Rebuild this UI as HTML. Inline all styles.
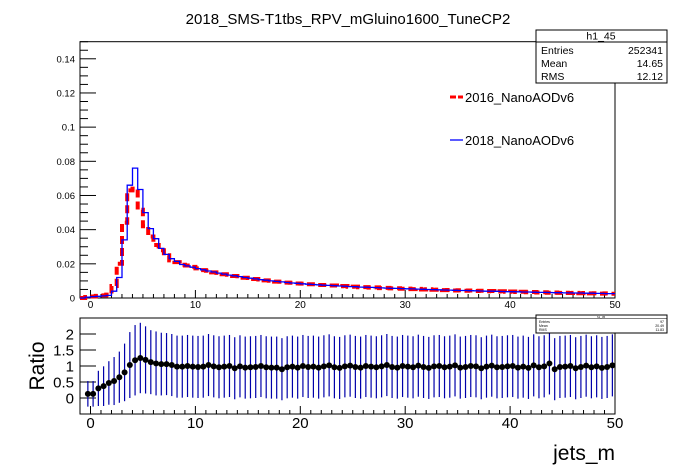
<!DOCTYPE html>
<html><head><meta charset="utf-8"><style>
body{margin:0;background:#fff}
svg{display:block;font-family:"Liberation Sans",sans-serif}
</style></head><body>
<svg id="c" width="696" height="472"></svg>
<script>
const binLow = -1, binW = 0.5;
const blue2018 = [0,0.0005,0.0008,0.001,0.0012,0.0015,0.004,0.012,0.034,0.066,0.076,0.0635,0.050,0.0406,0.0347,0.029,0.0255,0.023,0.0214,0.0196,
0.0188,0.018,0.0172,0.0165,0.0158,0.0152,0.0146,0.014,0.0134,0.013,0.0125,0.012,0.0116,0.0112,0.0107,0.0104,0.0100,0.0097,0.0094,0.0091,0.0088,0.0086,
0.0083,0.0081,0.0079,0.0077,0.0075,0.0074,0.0072,0.0070,0.0069,0.0067,
0.0066,0.0064,0.0063,0.0062,0.0061,0.0059,0.0058,0.0057,0.0056,0.0055,
0.0054,0.0053,0.0052,0.0051,0.0050,0.0049,0.0048,0.0047,0.0046,0.0045,
0.0044,0.0044,0.0043,0.0042,0.0041,0.0040,0.0040,0.0039,0.0038,0.0037,
0.0037,0.0036,0.0035,0.0035,0.0034,0.0033,0.0033,0.0032,0.0031,0.0031,
0.0030,0.0030,0.0029,0.0029,0.0028,0.0028,0.0027,0.0027,0.0026,0.0026];
const red2016 = [0,0.0006,0.0009,0.0012,0.0015,0.002,0.007,0.020,0.044,0.063,0.064,0.0516,0.042,0.036,0.031,0.028,0.025,0.022,0.021,0.0195,
0.019,0.0182,0.0173,0.0163,0.0159,0.0150,0.0147,0.0139,0.0136,0.0129,0.0127,0.0119,0.0117,0.0111,0.0108,0.0103,0.0101,0.0096,0.0095,0.0090,0.0089,0.0085,
0.0084,0.0080,0.0080,0.0076,0.0076,0.0073,0.0073,0.0069,0.0070,0.0066,
0.0067,0.0063,0.0064,0.0061,0.0062,0.0058,0.0059,0.0056,0.0057,0.0054,
0.0055,0.0052,0.0053,0.0050,0.0051,0.0048,0.0049,0.0046,0.0047,0.0044,
0.0045,0.0043,0.0044,0.0041,0.0042,0.0039,0.0041,0.0038,0.0039,0.0036,
0.0038,0.0035,0.0036,0.0034,0.0035,0.0032,0.0034,0.0031,0.0032,0.0030,
0.0031,0.0029,0.0030,0.0028,0.0029,0.0027,0.0028,0.0026,0.0027,0.0025];
const ratio = [null,0.13,0.13,0.30,0.37,0.47,0.53,0.65,0.80,1.03,1.18,1.25,1.19,1.12,1.08,1.06,1.06,1.03,0.98,0.98,
1.0,0.98,0.97,0.98,1.03,0.99,0.96,0.98,1.0,0.93,0.99,0.95,0.96,0.97,1.0,0.96,0.95,0.95,0.90,0.96,0.98,0.95,
1.0,0.97,0.98,0.95,0.99,1.02,0.96,0.94,0.99,1.01,0.97,0.95,1.0,0.98,0.96,0.99,1.03,0.97,0.95,1.0,
0.98,0.96,1.01,0.97,0.94,0.99,1.0,0.96,0.98,1.02,0.95,0.97,1.0,0.99,0.93,0.98,1.01,0.96,0.97,0.99,
1.0,0.95,0.98,0.94,1.02,0.96,0.99,1.08,0.9,0.97,0.98,1.0,0.93,0.97,1.01,0.96,0.99,0.94,0.97,1.02];
const ratioErr = [null,0.4,0.4,0.55,0.62,0.68,0.75,0.8,0.9,1.03,1.1,1.1,1.05,1.0,1.0,0.98,0.97,0.97,0.97,0.97,
0.97,0.97,0.97,0.97,0.97,0.97,0.97,0.97,0.97,0.97,0.97,0.97,0.97,0.97,0.97,0.97,0.97,0.97,0.97,0.97,0.97,0.97,
0.97,0.97,0.97,0.97,0.97,0.97,0.97,0.97,0.97,0.97,0.97,0.97,0.97,0.97,0.97,0.97,0.97,0.97,0.97,0.97,
0.97,0.97,0.97,0.97,0.97,0.97,0.97,0.97,0.97,0.97,0.97,0.97,0.97,0.97,0.97,0.97,0.97,0.97,0.97,0.97,
0.97,0.97,0.97,0.97,0.97,0.97,0.97,0.97,0.97,0.97,0.97,0.97,0.97,0.97,0.97,0.97,0.97,0.97,0.97,0.97];
const xTicks = [0,10,20,30,40,50];
const topYTicks = [0,0.02,0.04,0.06,0.08,0.1,0.12,0.14];
const topYLabels = ["0","0.02","0.04","0.06","0.08","0.1","0.12","0.14"];
const botYTicks = [0,0.5,1,1.5,2];
const botYLabels = ["0","0.5","1","1.5","2"];

const NS="http://www.w3.org/2000/svg", svg=document.getElementById('c');
function mk(tag,attrs,parent,text){const e=document.createElementNS(NS,tag);for(const k in attrs)e.setAttribute(k,attrs[k]);if(text!==undefined)e.textContent=text;(parent||svg).appendChild(e);return e;}
const L=80,R=615;
const X=v=>L+(v-(-1))*(R-L)/51;
const TT=41.7,TB=298, Yt=v=>TB-v*(TB-TT)/0.15;
const BT=318,BB=414, Yb=v=>BB-(v+0.5)*(BB-BT)/3;

let t=mk('text',{x:348,y:24,'text-anchor':'middle','font-size':15});

t.textContent='2018_SMS-T1tbs_RPV_mGluino1600_TuneCP2';

// top frame
let f=mk('rect',{x:L,y:TT,width:R-L,height:TB-TT,fill:'none',stroke:'#000','stroke-width':1});

let g=mk('g',{});
for(let v=0;v<=0.15001;v+=0.005){const y=Yt(v);const maj=Math.abs(v/0.02-Math.round(v/0.02))<1e-6;mk('line',{x1:L,x2:L+(maj?16:8),y1:y,y2:y,stroke:'#000'},g);}
topYTicks.forEach((v,i)=>mk('text',{x:L-5,y:Yt(v)+3.5,'text-anchor':'end','font-size':9.5},g,topYLabels[i]));
g=mk('g',{});
for(let v=-1;v<=50;v+=1){const x=X(v);const maj=v%10===0;mk('line',{x1:x,x2:x,y1:TB,y2:TB-(maj?8:4),stroke:'#000'},g);}
xTicks.forEach(v=>mk('text',{x:X(v),y:308,'text-anchor':'middle','font-size':10},g,String(v)));

function step(arr){let d='';arr.forEach((v,i)=>{const x0=X(binLow+i*binW),x1=X(binLow+(i+1)*binW),y=Yt(v);d+=(i?'L':'M')+x0.toFixed(1)+','+y.toFixed(1)+'L'+x1.toFixed(1)+','+y.toFixed(1);});return d;}
let p=mk('path',{d:step(red2016),fill:'none',stroke:'#ff0000','stroke-width':4,'stroke-dasharray':'8,4'});

p=mk('path',{d:step(blue2018),fill:'none',stroke:'#0000ff','stroke-width':1.3});


// stats box
g=mk('g',{});
mk('rect',{x:536,y:30,width:131,height:53,fill:'#fff',stroke:'#000'},g);
mk('line',{x1:536,x2:667,y1:42,y2:42,stroke:'#000'},g);
mk('text',{x:601,y:39.5,'text-anchor':'middle','font-size':10.5},g,'h1_45');
[['Entries','252341',54],['Mean','14.65',67],['RMS','12.12',80]].forEach(r=>{mk('text',{x:541,y:r[2],'font-size':10.5},g,r[0]);mk('text',{x:663,y:r[2],'text-anchor':'end','font-size':10.5},g,r[1]);});

// legend
g=mk('g',{});
mk('line',{x1:450,x2:463,y1:97,y2:97,stroke:'#f00','stroke-width':3,'stroke-dasharray':'6,2'},g);
mk('text',{x:465,y:102,'font-size':13},g,'2016_NanoAODv6');
g=mk('g',{});
mk('line',{x1:450,x2:463,y1:140,y2:140,stroke:'#00f','stroke-width':1.3},g);
mk('text',{x:465,y:145,'font-size':13},g,'2018_NanoAODv6');

// bottom panel
f=mk('rect',{x:L,y:BT,width:R-L,height:BB-BT,fill:'none',stroke:'#000'});

g=mk('g',{});
for(let v=-0.5;v<=2.5001;v+=0.1){const y=Yb(v);const maj=Math.abs(v*2-Math.round(v*2))<1e-6;mk('line',{x1:L,x2:L+(maj?16:0),y1:y,y2:y,stroke:'#000'},g);}
botYTicks.forEach((v,i)=>mk('text',{x:L-6,y:Yb(v)+5.5,'text-anchor':'end','font-size':15},g,botYLabels[i]));
g=mk('g',{});
for(let v=-1;v<=50;v+=1){const x=X(v);const maj=v%10===0;mk('line',{x1:x,x2:x,y1:BB,y2:BB-(maj?8:4),stroke:'#000'},g);}
xTicks.forEach(v=>mk('text',{x:X(v),y:428,'text-anchor':'middle','font-size':15},g,String(v)));
t=mk('text',{x:0,y:0,'font-size':21,'text-anchor':'middle',transform:'translate(44,366) rotate(-90)'},svg,'Ratio');

t=mk('text',{x:615,y:460,'font-size':21,'text-anchor':'end'},svg,'jets_m');


g=mk('g',{});
ratio.forEach((v,i)=>{if(v===null)return;const x=X(binLow+(i+0.5)*binW);
 const y1=Math.max(Yb(v+ratioErr[i]),BT),y2=Math.min(Yb(v-ratioErr[i]),BB);
 mk('line',{x1:x,x2:x,y1:y1,y2:y2,stroke:'#0000aa','stroke-width':1.2},g);});
ratio.forEach((v,i)=>{if(v===null)return;const x=X(binLow+(i+0.5)*binW);
 const c=mk('circle',{cx:x,cy:Yb(v),r:3,fill:'#000'},g);
 });

g=mk('g',{});
mk('rect',{x:536,y:315,width:131,height:18,fill:'#fff',stroke:'#000'},g);
mk('line',{x1:536,x2:667,y1:318.5,y2:318.5,stroke:'#000','stroke-width':0.6},g);
mk('text',{x:601,y:318,'text-anchor':'middle','font-size':3},g,'h1_45');
[['Entries','97',323],['Mean','20.49',327],['RMS','11.83',331]].forEach(r=>{mk('text',{x:539,y:r[2],'font-size':3.5},g,r[0]);mk('text',{x:664,y:r[2],'text-anchor':'end','font-size':3.5},g,r[1]);});
</script>
</body></html>
